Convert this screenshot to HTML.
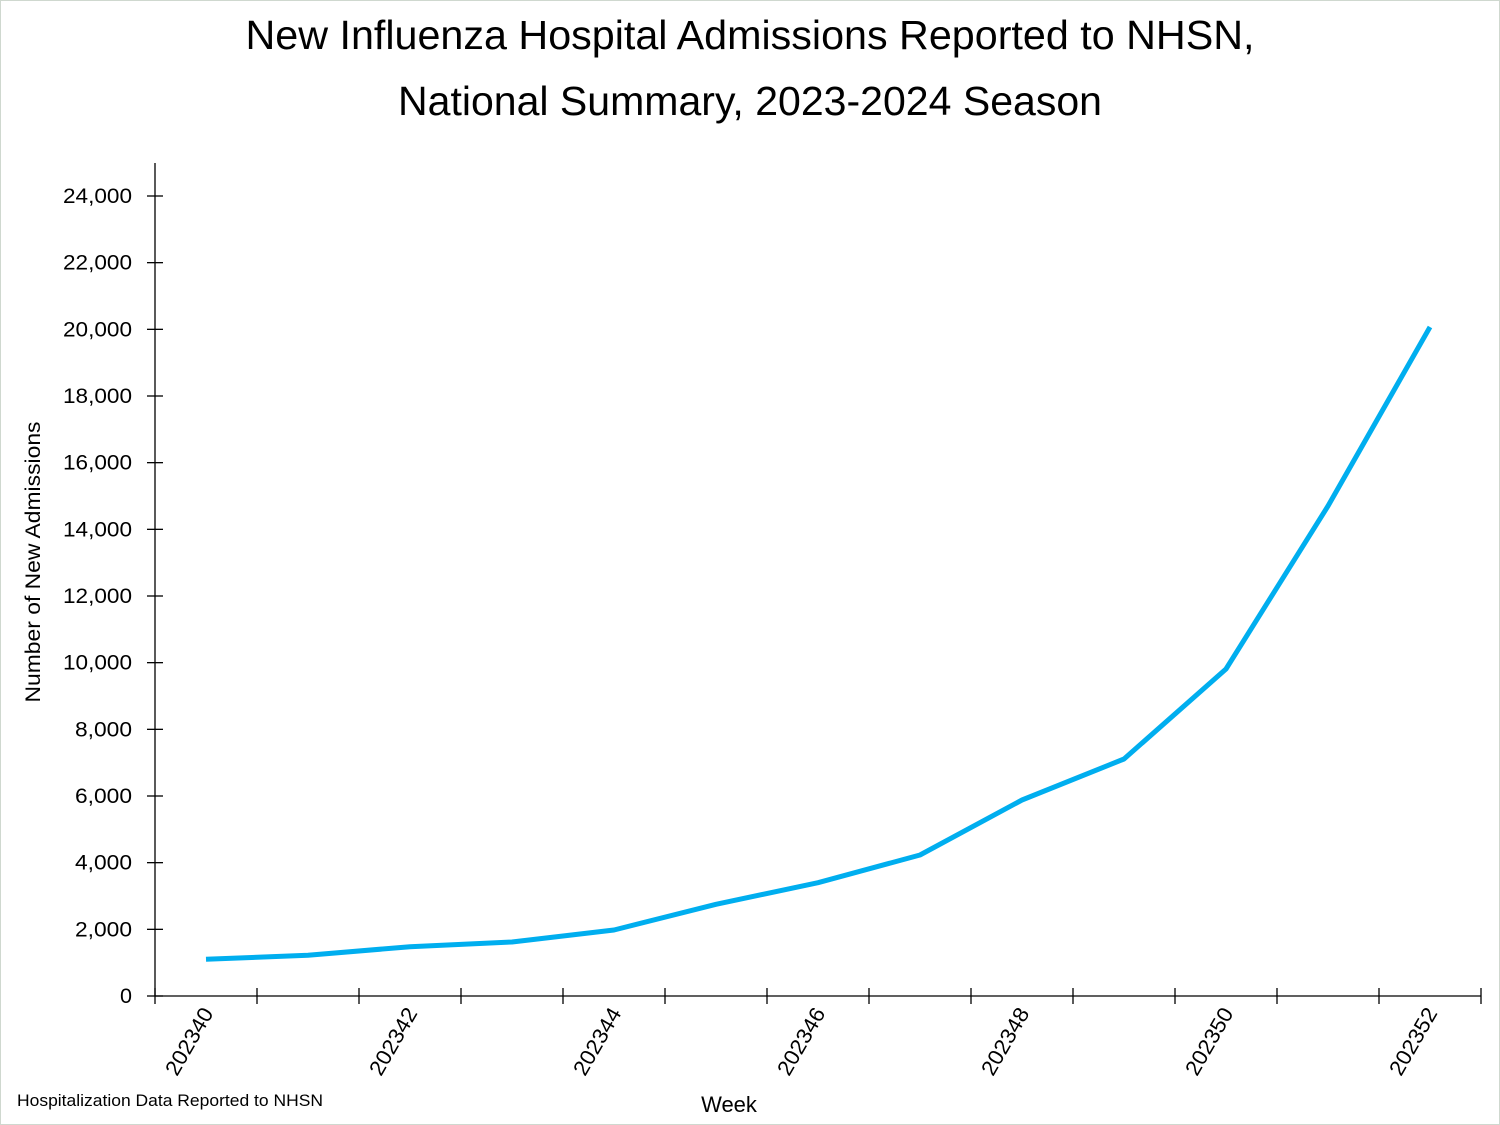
<!DOCTYPE html>
<html><head><style>
body{margin:0;background:#fff}
svg{display:block;font-family:"Liberation Sans",sans-serif}
</style></head><body>
<svg width="1500" height="1125" viewBox="0 0 1500 1125">
<rect x="0.5" y="0.5" width="1499" height="1124" fill="#fff" stroke="#cfd8cf"/>
<text x="750" y="49" text-anchor="middle" font-size="41" textLength="1009" lengthAdjust="spacingAndGlyphs">New Influenza Hospital Admissions Reported to NHSN,</text>
<text x="750" y="115" text-anchor="middle" font-size="41" textLength="704" lengthAdjust="spacingAndGlyphs">National Summary, 2023-2024 Season</text>
<g stroke="#000" stroke-width="1.3">
<line x1="155" y1="163" x2="155" y2="996"/>
<line x1="155" y1="996" x2="1481" y2="996"/>
</g>
<g stroke="#000" stroke-width="1.3" id="yt"></g>
<g font-size="21.5" text-anchor="end" id="yl"></g>
<g stroke="#000" stroke-width="1.3" id="xt"></g>
<g font-size="21.5" id="xl"></g>
<text transform="translate(40,562) rotate(-90)" text-anchor="middle" font-size="21" textLength="281" lengthAdjust="spacingAndGlyphs">Number of New Admissions</text>
<text x="729" y="1112" text-anchor="middle" font-size="22">Week</text>
<text x="17" y="1106" font-size="17" textLength="306" lengthAdjust="spacingAndGlyphs">Hospitalization Data Reported to NHSN</text>
<polyline id="ln" fill="none" stroke="#00aeef" stroke-width="5" stroke-linejoin="round" points=""/>
</svg>
<script>
var ns="http://www.w3.org/2000/svg";
function el(p,t,a,txt){var e=document.createElementNS(ns,t);for(var k in a)e.setAttribute(k,a[k]);if(txt)e.textContent=txt;document.getElementById(p).appendChild(e);}
for(var i=0;i<=12;i++){var v=i*2000,y=996-v/24000*800;
el("yt","line",{x1:147,x2:163,y1:y,y2:y});
el("yl","text",{x:132,y:y+7,textLength:(v<10000?(v==0?12:57):69),lengthAdjust:"spacingAndGlyphs"},v.toLocaleString("en-US"));}
for(var j=0;j<=13;j++){var x=155+j*102;el("xt","line",{x1:x,x2:x,y1:988,y2:1004});}
for(var j=0;j<13;j+=2){var x=206+j*102;
el("xl","text",{transform:"translate("+(x+8)+",1013) rotate(-60)","text-anchor":"end",textLength:74,lengthAdjust:"spacingAndGlyphs"},String(202340+j));}
var d=[1100,1220,1480,1620,1980,2750,3400,4230,5880,7110,9810,14700,20070],p=[];
for(var k=0;k<13;k++)p.push((206+k*102)+","+(996-d[k]/30).toFixed(1));
document.getElementById("ln").setAttribute("points",p.join(" "));
</script>
</body></html>
